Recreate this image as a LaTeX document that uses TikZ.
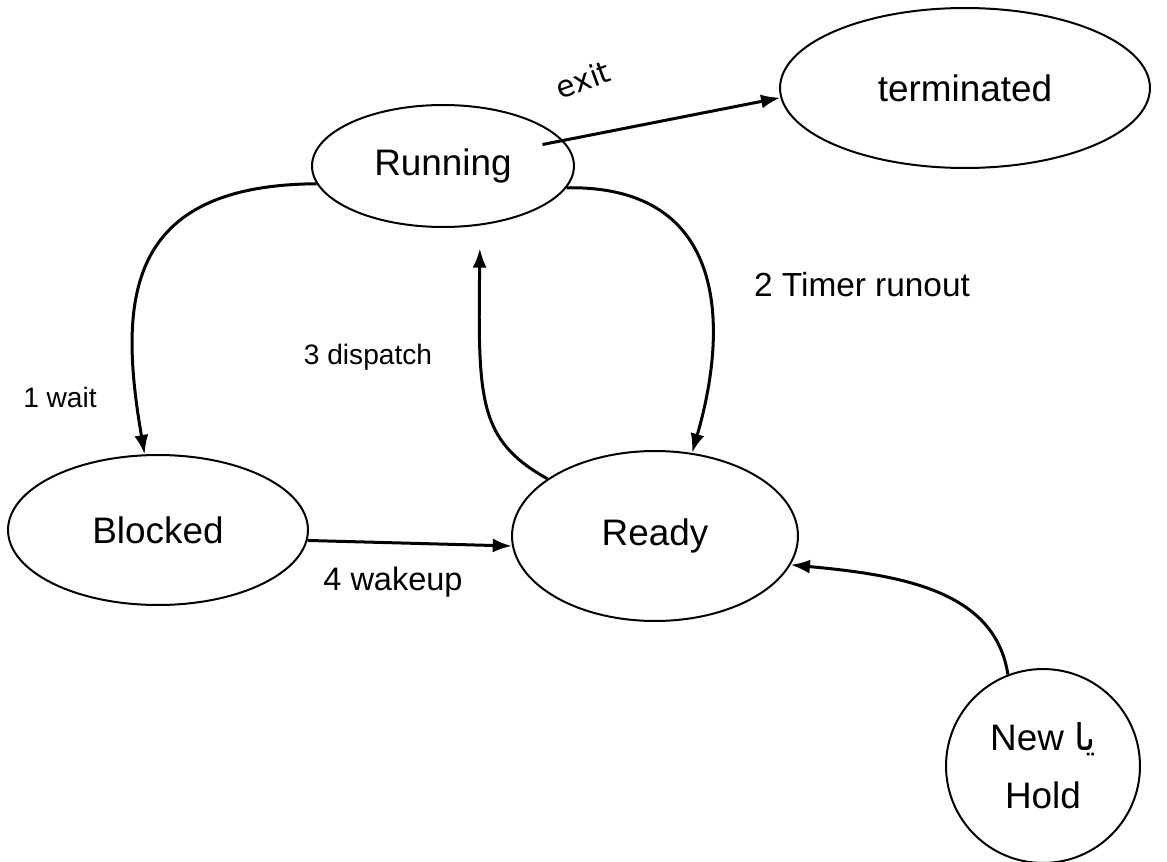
\documentclass[tikz,border=0pt]{standalone}
\usepackage{fontspec}
\setmainfont{Liberation Sans}
\newfontfamily\arabicfont[Script=Arabic]{DejaVu Sans}
\newfontfamily\exitfont{DejaVu Sans}
\TeXXeTstate=1
\usepackage{xcolor}
\usepackage{tikz}
\usetikzlibrary{shapes,arrows,arrows.meta,positioning}

\tikzset{
    state/.style={
        draw,
        ellipse,
        line width=0.4mm,
        inner sep=0pt,
        font=\fontsize{21}{25}\selectfont
    },
    trans/.style={
        ->,
        >={Latex[length=11pt,width=8pt]},
        line width=0.6mm
    },
    lbl/.style={
        font=\fontsize{16}{19}\selectfont
    }
}

\begin{document}
\begin{tikzpicture}[x=0.02cm,y=-0.02cm]
                \useasboundingbox (0,0) rectangle (1167,862);

                \node[
                    state,
                    minimum width=5.24cm,
                    minimum height=2.44cm
                    ] (running) at (443,166) {Running};

                \node[
                    state,
                    minimum width=7.4cm,
                    minimum height=3.2cm
                    ] (terminated) at (965,88) {terminated};

                \node[
                    state,
                    minimum width=6cm,
                    minimum height=3cm
                    ] (blocked) at (158,530) {Blocked};

                \node[
                    state,
                    minimum width=5.72cm,
                    minimum height=3.4cm
                    ] (ready) at (655,536) {Ready};

                \node[
                    state,
                    circle,
                    minimum size=3.88cm,
                    align=center
                    ] (hold) at (1043,766) {New {\arabicfont\beginR يا\endR}\\[8pt]Hold};

                \draw[
                    trans,
                    shorten <=-12pt
                ] (running.12) to (terminated.183);

                \node[
                    font=\exitfont\fontsize{17}{20}\selectfont,
                    rotate=20
                ] (exitlbl) at (583,80) {exit};

                \draw[
                    trans
                ] (running.188) .. controls (125,185) and (118,300) .. (blocked.100);

                \node[lbl] (waitlbl) at (60,397) {1 wait};

                \draw[
                    trans
                ] (running.-10) .. controls (730,185) and (728,330) .. (ready.66);

                \node[
                    lbl,
                    font=\fontsize{19}{23}\selectfont
                ] (timerlbl) at (862,285) {2 Timer runout};

                \draw[
                    trans,
                    shorten >=13pt
                ] (ready.152) .. controls (478,440) and (478,400) .. (running.-58);

                \node[lbl] (dispatchlbl) at (368,357) {3 dispatch};

                \draw[
                    trans
                ] (blocked.-4) to (ready.184);

                \node[
                    lbl,
                    font=\fontsize{18.5}{22}\selectfont
                ] (wakeuplbl) at (393,582) {4 wakeup};

                \draw[
                    trans
                ] (hold.111) .. controls (995,590) and (900,575) .. (ready.-12);

            \end{tikzpicture}
\end{document}
